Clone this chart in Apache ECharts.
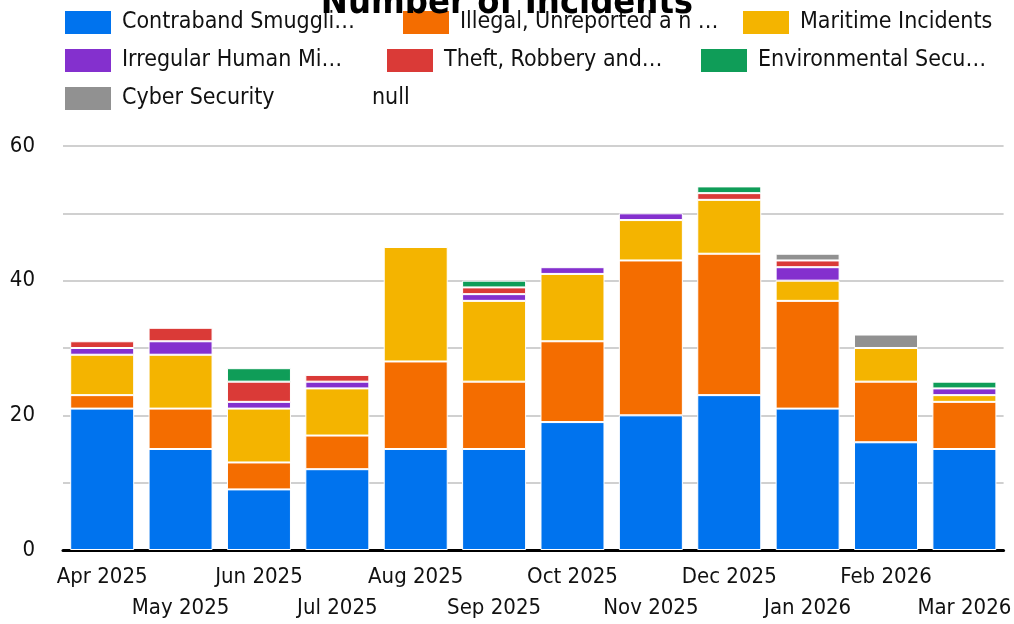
<!DOCTYPE html>
<html>
<head>
<meta charset="utf-8">
<script src="https://cdn.jsdelivr.net/npm/echarts@6/dist/echarts.min.js"></script>
<style>html,body{margin:0;padding:0;background:#fff;overflow:hidden}#c{width:1014px;height:624px}</style>
</head>
<body>
<div id="c"></div>
<script>
const categories = ['Apr 2025','May 2025','Jun 2025','Jul 2025','Aug 2025','Sep 2025','Oct 2025','Nov 2025','Dec 2025','Jan 2026','Feb 2026','Mar 2026'];
const seriesNames = ['Contraband Smuggling','Illegal, Unreported and Unregulated Fishing','Maritime Incidents','Irregular Human Migration','Theft, Robbery and Violence at Sea','Environmental Security','Cyber Security','null'];
const legendLabels = ['Contraband Smuggli…','Illegal, Unreported a n …','Maritime Incidents','Irregular Human Mi…','Theft, Robbery and…','Environmental Secu…','Cyber Security','null'];
const contraband    = [21,15, 9,12,15,15,19,20,23,21,16,15];
const illegalFishing= [ 2, 6, 4, 5,13,10,12,23,21,16, 9, 7];
const maritime      = [ 6, 8, 8, 7,17,12,10, 6, 8, 3, 5, 1];
const migration     = [ 1, 2, 1, 1, 0, 1, 1, 1, 0, 2, 0, 1];
const theft         = [ 1, 2, 3, 1, 0, 1, 0, 0, 1, 1, 0, 0];
const environmental = [ 0, 0, 2, 0, 0, 1, 0, 0, 1, 0, 0, 1];
const cyber         = [ 0, 0, 0, 0, 0, 0, 0, 0, 0, 1, 2, 0];
const nullSeries    = [];
const yTicks = [0, 20, 40, 60];

const values = [contraband, illegalFishing, maritime, migration, theft, environmental, cyber, nullSeries];
const colors = ['#0073EE','#F46D00','#F4B400','#8430CE','#DA3A37','#0F9D58','#919191','rgba(0,0,0,0)'];
const legendPos = [[63,9],[401,9],[741,9],[63,47],[385,47],[699,47],[63,85],[313,85]];

const FONT = 'DejaVu Sans Condensed';
const chart = echarts.init(document.getElementById('c'), null, {renderer:'canvas', width:1014, height:624});
const legends = seriesNames.map((n,i)=>({
  data:[n], left:legendPos[i][0], top:legendPos[i][1], padding:0,
  itemWidth:48, itemHeight:25, itemGap:0, icon:'rect',
  selectedMode:false,
  formatter: () => legendLabels[i],
  textStyle:{fontFamily:FONT, fontSize:23, color:'#111', padding:[0,0,0,5]}
}));
chart.setOption({
  animation:false,
  color: colors,
  title:{text:'Number of Incidents', left:'center', top:-19,
    textStyle:{fontFamily:FONT, fontSize:36, fontWeight:'bold', color:'#000'}},
  legend: legends,
  grid:{left:63, right:1, top:146, bottom:72, containLabel:false},
  xAxis:{type:'category', data:categories,
    axisLine:{lineStyle:{color:'#000', width:3}},
    axisTick:{show:false},
    axisLabel:{interval:0, margin:12, lineHeight:31, fontFamily:FONT, fontSize:22, color:'#111',
      formatter:(v,i)=> i%2 ? '\n'+v : v}},
  yAxis:{type:'value', min:0, max:60, interval:10,
    axisLine:{show:false}, axisTick:{show:false},
    splitLine:{lineStyle:{color:'#d0d0d0', width:2}},
    axisLabel:{margin:28, fontFamily:FONT, fontSize:22, color:'#111',
      formatter:v=> yTicks.includes(v) ? String(v) : ''}},
  series: seriesNames.map((n,i)=>({
    name:n, type:'bar', stack:'total', barWidth:64,
    itemStyle:{color:colors[i], borderColor:'#fff', borderWidth:1},
    data: values[i].map(v=> v===0 ? null : v)
  }))
});
</script>
</body>
</html>
